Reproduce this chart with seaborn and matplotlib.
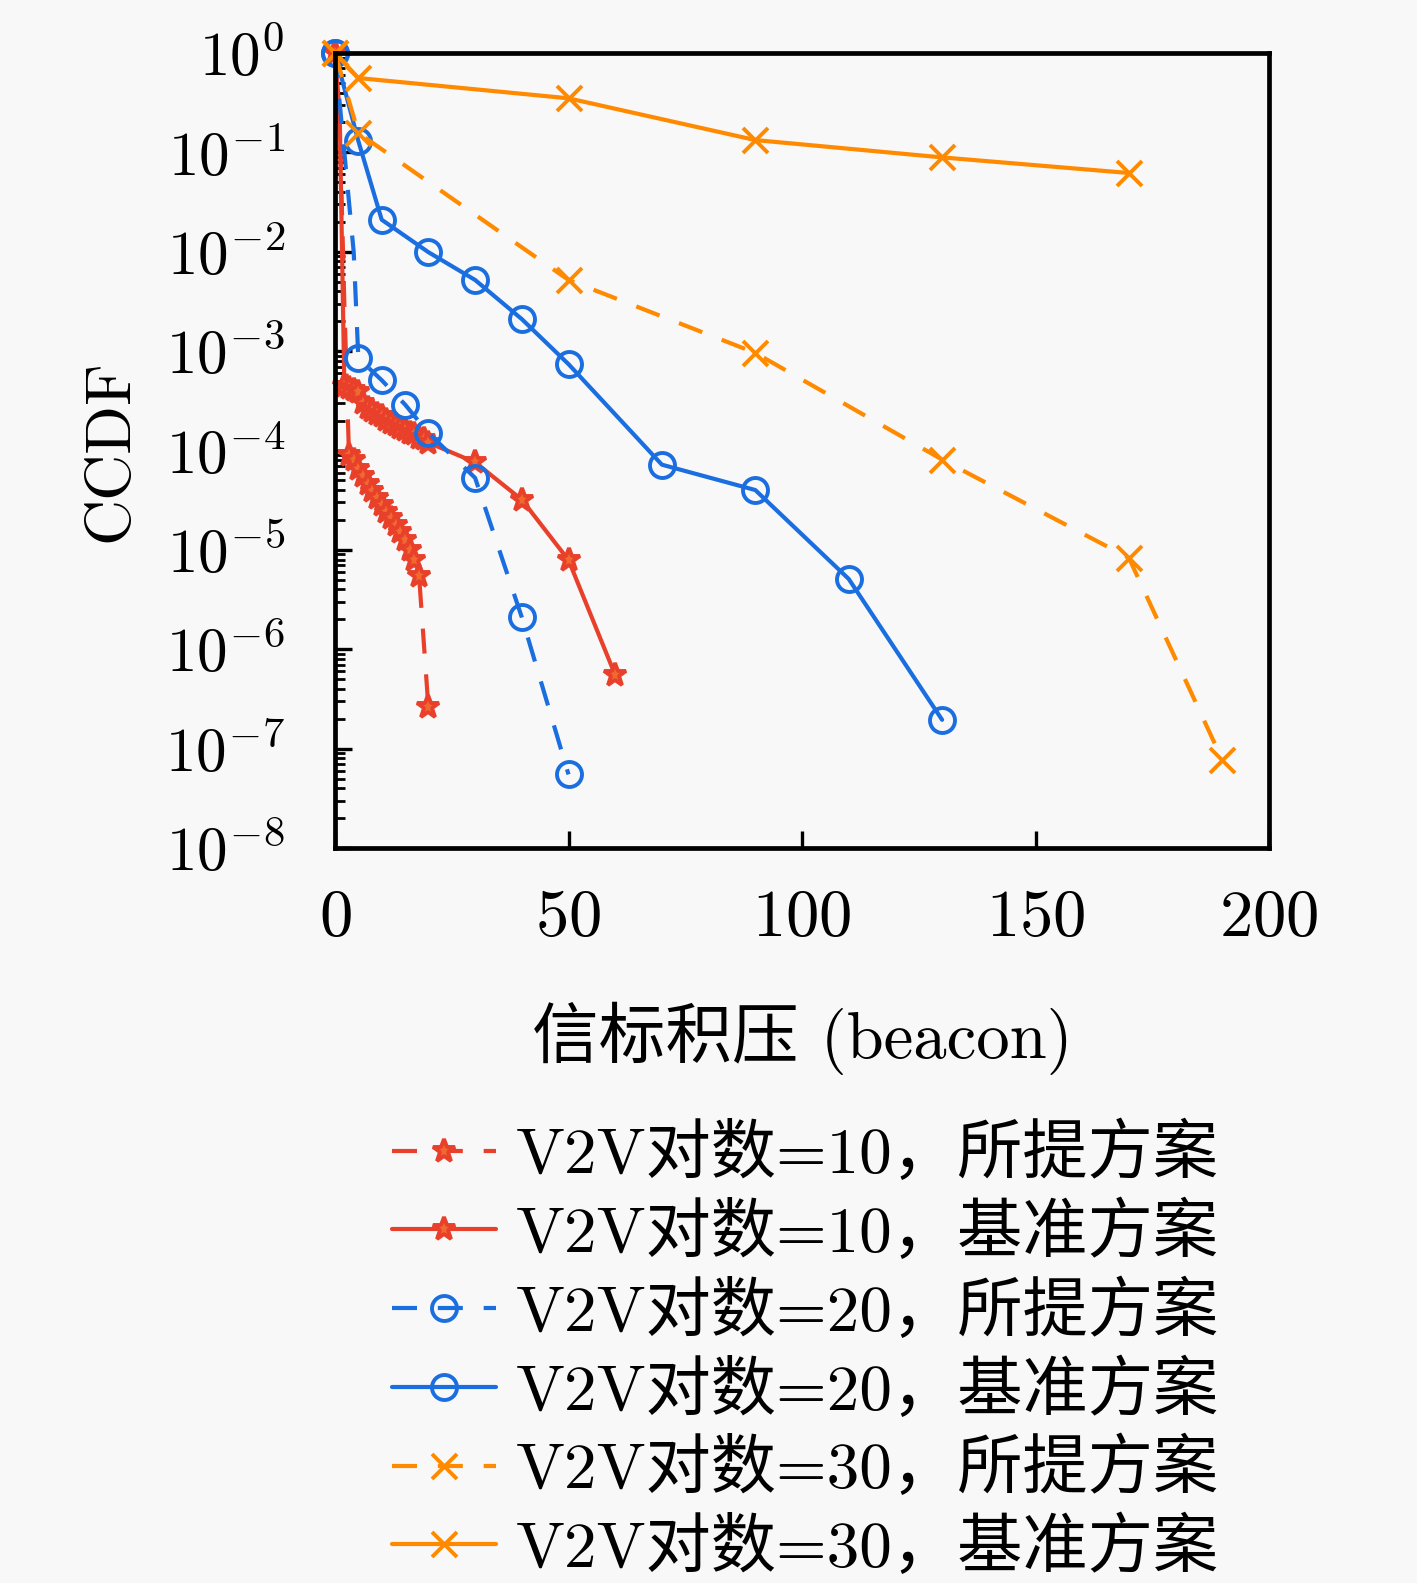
import matplotlib
matplotlib.use("Agg")
import matplotlib.pyplot as plt
import matplotlib.ticker as mticker
import seaborn as sns
import numpy as np

sns.set_style("ticks")
plt.rcParams['font.family'] = ['cmr10', 'Noto Sans CJK SC']
plt.rcParams['mathtext.fontset'] = 'cm'
plt.rcParams['axes.unicode_minus'] = False
plt.rcParams['axes.formatter.use_mathtext'] = True
plt.rcParams['text.color'] = 'black'
plt.rcParams['axes.labelcolor'] = 'black'
plt.rcParams['xtick.color'] = 'black'
plt.rcParams['ytick.color'] = 'black'

# V2V pairs = 10, proposed
x_10_prop = [0, 1, 2, 3, 4, 5, 6, 7, 8, 9, 10, 11, 12, 13, 14, 15, 16, 17, 18, 20]
y_10_prop = [1.0, 0.2, 3e-3, 9e-5, 8e-5, 6.5e-5, 5.5e-5, 4.6e-5, 3.9e-5, 3.3e-5, 2.8e-5,
             2.4e-5, 2.1e-5, 1.8e-5, 1.5e-5, 1.25e-5, 1.0e-5, 8e-6, 5.5e-6, 2.6e-7]
# V2V pairs = 10, baseline
x_10_base = [0, 1, 2, 3, 4, 5, 6, 7, 8, 9, 10, 11, 12, 13, 14, 15, 16, 17, 18, 19, 20,
             30, 40, 50, 60]
y_10_base = [1.0, 0.25, 4.5e-4, 4.3e-4, 4.1e-4, 3.9e-4, 3.0e-4, 2.7e-4, 2.5e-4, 2.35e-4,
             2.2e-4, 2.05e-4, 1.9e-4, 1.8e-4, 1.7e-4, 1.6e-4, 1.5e-4, 1.45e-4, 1.35e-4,
             1.3e-4, 1.2e-4, 7.6e-5, 3.2e-5, 7.9e-6, 5.5e-7]
# V2V pairs = 20, proposed
x_20_prop = [0, 2, 4, 5, 10, 15, 20, 30, 40, 50]
y_20_prop = [1.0, 0.1, 1e-2, 8.5e-4, 5.1e-4, 2.9e-4, 1.5e-4, 5.3e-5, 2.1e-6, 5.5e-8]
# V2V pairs = 20, baseline
x_20_base = [0, 5, 10, 20, 30, 40, 50, 70, 90, 110, 130]
y_20_base = [1.0, 0.13, 0.021, 0.0099, 5.2e-3, 2.1e-3, 7.4e-4, 7.2e-5, 4.0e-5, 5.1e-6, 1.95e-7]
# V2V pairs = 30, proposed
x_30_prop = [0, 5, 50, 90, 130, 170, 190]
y_30_prop = [1.0, 0.157, 5.2e-3, 9.6e-4, 8.1e-5, 8.3e-6, 7.7e-8]
# V2V pairs = 30, baseline
x_30_base = [0, 5, 50, 90, 130, 170]
y_30_base = [1.0, 0.56, 0.35, 0.133, 0.089, 0.062]

labels = ['V2V对数=10，所提方案', 'V2V对数=10，基准方案',
          'V2V对数=20，所提方案', 'V2V对数=20，基准方案',
          'V2V对数=30，所提方案', 'V2V对数=30，基准方案']

red = '#e8402a'
blue = '#1a6ee0'
orange = '#ff8a00'
bg = '#f8f8f8'
dash = (0, (6, 5))

fig = plt.figure(figsize=(14.17, 15.83), dpi=100, facecolor=bg)
ax = fig.add_axes([335 / 1417, 1 - 848 / 1583, (1269 - 335) / 1417, (848 - 53) / 1583])
ax.set_facecolor(bg)

star_kw = dict(markerfacecolor='#f06a30', markeredgecolor=red, markersize=17)
series = [
    (x_10_prop, y_10_prop, red, dash, '*', star_kw, [0] + list(range(3, 20))),
    (x_10_base, y_10_base, red, '-', '*', star_kw, [0] + list(range(2, 25))),
    (x_20_prop, y_20_prop, blue, dash, 'o', dict(markerfacecolor='none', markeredgecolor=blue, markersize=18), [0, 3, 4, 5, 6, 7, 8, 9]),
    (x_20_base, y_20_base, blue, '-', 'o', dict(markerfacecolor='none', markeredgecolor=blue, markersize=18), None),
    (x_30_prop, y_30_prop, orange, dash, 'x', dict(markeredgecolor=orange, markersize=18), None),
    (x_30_base, y_30_base, orange, '-', 'x', dict(markeredgecolor=orange, markersize=18), None),
]

handles = []
for (xs, ys, c, ls, mk, mkw, mev), lab in zip(series, labels):
    sns.lineplot(x=xs, y=ys, ax=ax, color=c, linestyle=ls, linewidth=3.0,
                 marker=mk, markeredgewidth=2.8, markevery=mev, clip_on=False,
                 label=lab, **mkw)
    handles.append(ax.lines[-1])

ax.set_yscale('log')
ax.set_xlim(0, 200)
ax.set_ylim(1e-8, 1)
ax.set_xticks([0, 50, 100, 150, 200])
ax.yaxis.set_major_locator(mticker.LogLocator(base=10, numticks=20))
ax.yaxis.set_minor_locator(mticker.LogLocator(base=10, subs=np.arange(2, 10), numticks=20))
ax.yaxis.set_minor_formatter(mticker.NullFormatter())

ax.tick_params(axis='x', which='both', direction='in', length=12, width=2.4,
               labelsize=48, pad=30, top=False)
ax.tick_params(axis='y', which='major', direction='in', length=12, width=2.4,
               labelsize=44, pad=36, right=False)
ax.tick_params(axis='y', which='minor', direction='in', length=7, width=2.0, right=False)
for s in ax.spines.values():
    s.set_linewidth(3.4)
    s.set_color('black')

ax.set_xlabel('信标积压 (beacon)', fontsize=48, labelpad=38)
ax.set_ylabel('CCDF', fontsize=46, labelpad=18)

ax.get_legend().remove()
fig.legend(handles=handles, labels=labels, loc='upper left',
           bbox_to_anchor=(392 / 1417, 1 - 1124 / 1583), frameon=False,
           fontsize=47, handlelength=1.6, handletextpad=0.3, labelspacing=0.25,
           borderpad=0, borderaxespad=0)

fig.savefig('out.png', dpi=100, facecolor=bg)
